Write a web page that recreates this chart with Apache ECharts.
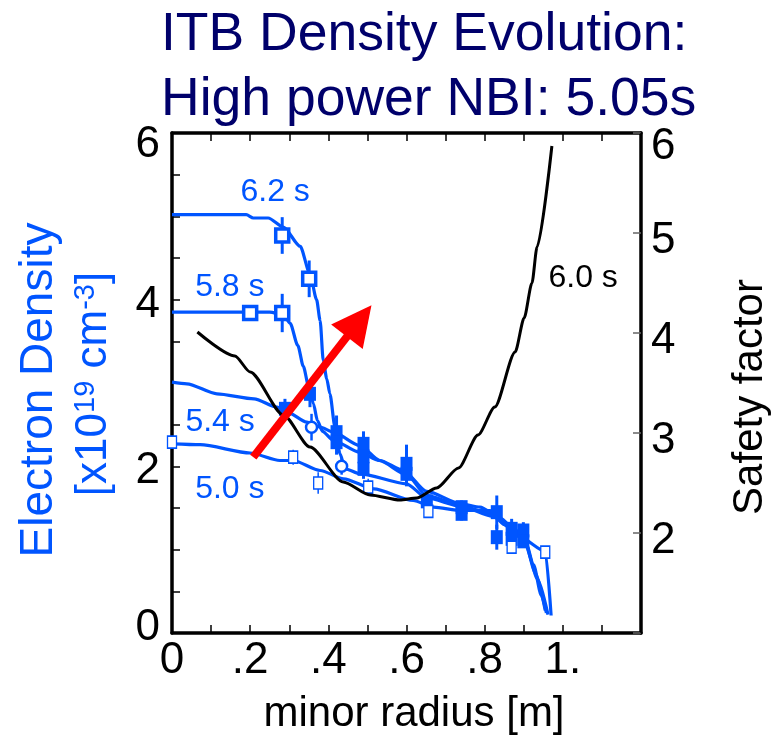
<!DOCTYPE html>
<html>
<head>
<meta charset="utf-8">
<script src="https://cdn.jsdelivr.net/npm/echarts@6/dist/echarts.min.js"></script>
<style>
html, body { margin: 0; padding: 0; background: #fff; }
#chart { width: 775px; height: 743px; }
</style>
</head>
<body>
<div id="chart"></div>
<script>
// Electron density profiles [minor radius (m), density (x10^19 cm^-3)]
const profile62 = [[0,5.02],[0.19,5.02],[0.208,4.98],[0.246,4.98],[0.285,4.87],[0.328,4.64],[0.353,4.31],[0.37,4.0],[0.379,3.75],[0.387,3.27],[0.396,3.05],[0.404,2.87],[0.417,2.47],[0.43,2.15],[0.443,1.97],[0.481,1.91],[0.6,1.79],[0.652,1.62],[0.74,1.52],[0.82,1.4],[0.87,1.25],[0.9,1.12],[0.925,0.82],[0.945,0.45],[0.958,0.24]];
const profile58 = [[0,3.85],[0.2,3.85],[0.25,3.85],[0.285,3.82],[0.302,3.72],[0.322,3.45],[0.336,3.2],[0.35,2.95],[0.362,2.75],[0.372,2.55],[0.385,2.42],[0.413,2.31],[0.48,2.17],[0.53,2.07],[0.6,1.9],[0.652,1.65],[0.74,1.53],[0.82,1.42],[0.87,1.27],[0.9,1.15],[0.93,0.72],[0.955,0.27]];
const profile54 = [[0,3.01],[0.038,2.99],[0.115,2.87],[0.21,2.81],[0.269,2.71],[0.295,2.65],[0.345,2.53],[0.379,2.47],[0.413,2.41],[0.48,2.25],[0.532,2.07],[0.592,1.95],[0.652,1.7],[0.74,1.55],[0.788,1.51],[0.84,1.38],[0.88,1.22],[0.905,1.08],[0.935,0.65],[0.962,0.22]];
const profile50 = [[0,2.27],[0.072,2.26],[0.2,2.16],[0.276,2.07],[0.31,2.07],[0.379,1.95],[0.439,1.85],[0.516,1.73],[0.617,1.59],[0.669,1.51],[0.74,1.47],[0.814,1.47],[0.85,1.3],[0.89,1.15],[0.955,0.98],[0.97,0.21]];

// Safety factor profile at 6.0 s [minor radius (m), q]
const qProfile60 = [[0.065,4.01],[0.161,3.77],[0.2,3.61],[0.285,3.18],[0.353,2.86],[0.438,2.51],[0.507,2.38],[0.583,2.33],[0.626,2.35],[0.677,2.45],[0.733,2.65],[0.783,2.98],[0.826,3.26],[0.878,3.81],[0.901,4.15],[0.921,4.5],[0.934,4.86],[0.972,5.87]];

// Measured points [r, ne, error]
const pointsBold = [[0.282,4.77,0.22],[0.351,4.25,0.22],[0.2,3.84,0.04],[0.282,3.84,0.23]];
const pointsFilled = [[0.289,2.69,0.12],[0.353,2.87,0.16],[0.421,2.41,0.2],[0.421,2.29,0.15],[0.49,2.27,0.15],[0.49,2.12,0.12],[0.49,1.97,0.12],[0.6,2.03,0.23],[0.6,1.91,0.15],[0.652,1.58,0.1],[0.741,1.51,0.08],[0.741,1.43,0.08],[0.831,1.45,0.2],[0.831,1.15,0.15],[0.869,1.25,0.12],[0.869,1.13,0.12],[0.899,1.23,0.1],[0.899,1.1,0.08]];
const pointsOpen = [[0,2.29,0.04],[0.31,2.11,0.09],[0.374,1.8,0.13],[0.502,1.75,0.1],[0.656,1.46,0.08],[0.869,1.03,0.08],[0.955,0.97,0.04]];
const pointsCircle = [[0.357,2.47,0.16],[0.434,2.0,0.1]];

// Curve tags [text, r, value]
const timeTags = [['6.2 s',0.264,5.29],['5.8 s',0.148,4.15],['5.4 s',0.123,2.53],['5.0 s',0.148,1.72]];
const qTags = [['6.0 s',1.052,4.55]];

// Evolution arrow (tail, head centre)
const arrowFrom = [0.208,2.11];
const arrowTo = [0.479,3.745];

// Axis tick labels
const xTickText = ['0','.2','.4','.6','.8','1.'];
const yLeftTicks = [0,2,4,6];
const yRightTicks = [2,3,4,5,6];

const BLUE = '#0055ff';
const NAVY = '#00006b';
const FONT = 'Liberation Sans, Arial, Helvetica, sans-serif';

const chart = echarts.init(document.getElementById('chart'), null, { renderer: 'canvas' });

function errorBars(points, width) {
  return {
    type: 'custom',
    xAxisIndex: 0, yAxisIndex: 0,
    silent: true, z: 3, clip: false,
    data: points.map(p => [p[0], p[1] - p[2], p[1] + p[2]]),
    encode: { x: 0, y: [1, 2] },
    renderItem(params, api) {
      const a = api.coord([api.value(0), api.value(1)]);
      const b = api.coord([api.value(0), api.value(2)]);
      return { type: 'line', shape: { x1: a[0], y1: a[1], x2: b[0], y2: b[1] },
               style: { stroke: BLUE, lineWidth: width } };
    }
  };
}

function profileLine(data) {
  return {
    type: 'line', xAxisIndex: 0, yAxisIndex: 0, data,
    showSymbol: false, symbol: 'none', smooth: 0.25, smoothMonotone: 'x',
    lineStyle: { color: BLUE, width: 3.2 }, z: 2, silent: true, clip: false
  };
}

function tagSeries(tags, yIndex, color) {
  return {
    type: 'custom', xAxisIndex: 0, yAxisIndex: yIndex, silent: true, z: 7, clip: false,
    data: tags.map(t => [t[1], t[2]]),
    encode: { x: 0, y: 1 },
    renderItem(params, api) {
      const p = api.coord([api.value(0), api.value(1)]);
      return {
        type: 'text', x: p[0], y: p[1],
        style: { text: tags[params.dataIndex][0], fill: color, fontSize: 32, fontFamily: FONT,
                 align: 'center', verticalAlign: 'middle', textAlign: 'center', textVerticalAlign: 'middle' }
      };
    }
  };
}

const axisLineStyle = { color: '#000', width: 3.5 };

const option = {
  animation: false,
  backgroundColor: '#fff',
  grid: { left: 172, right: 134, top: 133, bottom: 110, containLabel: false },
  xAxis: [
    {
      type: 'value', position: 'bottom', min: 0, max: 1.2, interval: 0.1,
      axisLine: { show: true, onZero: false, lineStyle: axisLineStyle },
      axisTick: { show: true, inside: true, length: 8, lineStyle: { color: '#000', width: 1.5 } },
      splitLine: { show: false },
      axisLabel: {
        show: true, margin: 6, color: '#000', fontSize: 44, fontFamily: FONT,
        formatter: v => {
          const k = Math.round(v * 10);
          return (k % 2 === 0 && k / 2 < xTickText.length) ? xTickText[k / 2] : '';
        }
      }
    },
    {
      type: 'value', position: 'top', min: 0, max: 1.2, interval: 0.1,
      axisLine: { show: true, onZero: false, lineStyle: axisLineStyle },
      axisTick: { show: true, inside: true, length: 8, lineStyle: { color: '#000', width: 1.5 } },
      splitLine: { show: false },
      axisLabel: { show: false }
    }
  ],
  yAxis: [
    {
      type: 'value', position: 'left', min: 0, max: 6, interval: 0.5,
      axisLine: { show: true, onZero: false, lineStyle: axisLineStyle },
      axisTick: { show: true, inside: true, length: 8, lineStyle: { color: '#000', width: 1.5 } },
      splitLine: { show: false },
      axisLabel: {
        show: true, margin: 12, color: '#000', fontSize: 44, fontFamily: FONT,
        formatter: v => {
          const r = Math.round(v * 2) / 2;
          if (!yLeftTicks.includes(r)) return '';
          if (r === 0) return '{lo|0}';
          if (r === 6) return '{hi|6}';
          return '{md|' + r + '}';
        },
        rich: {
          lo: { fontSize: 44, fontFamily: FONT, color: '#000', padding: [0, 0, 10, 0] },
          md: { fontSize: 44, fontFamily: FONT, color: '#000', padding: [10, 0, 0, 0] },
          hi: { fontSize: 44, fontFamily: FONT, color: '#000', padding: [24, 0, 0, 0] }
        }
      }
    },
    {
      type: 'value', position: 'right', min: 1, max: 6, interval: 1,
      axisLine: { show: true, onZero: false, lineStyle: axisLineStyle },
      axisTick: { show: true, inside: true, length: 8, lineStyle: { color: '#666', width: 1.5 } },
      splitLine: { show: false },
      axisLabel: {
        show: true, margin: 10, color: '#000', fontSize: 44, fontFamily: FONT,
        formatter: v => {
          const r = Math.round(v);
          if (!yRightTicks.includes(r)) return '';
          return r === 6 ? '{hi|6}' : '{md|' + r + '}';
        },
        rich: {
          md: { fontSize: 44, fontFamily: FONT, color: '#000', padding: [16, 0, 0, 0] },
          hi: { fontSize: 44, fontFamily: FONT, color: '#000', padding: [28, 0, 0, 0] }
        }
      }
    }
  ],
  series: [
    profileLine(profile62),
    profileLine(profile58),
    profileLine(profile54),
    profileLine(profile50),
    errorBars(pointsBold, 3),
    errorBars(pointsFilled, 3),
    errorBars(pointsOpen, 1.5),
    errorBars(pointsCircle, 2.5),
    {
      type: 'scatter', xAxisIndex: 0, yAxisIndex: 0, silent: true, z: 4, clip: false,
      data: pointsBold.map(p => [p[0], p[1]]),
      symbol: 'rect', symbolSize: 13,
      itemStyle: { color: '#fff', borderColor: BLUE, borderWidth: 3.5, opacity: 1 }
    },
    {
      type: 'scatter', xAxisIndex: 0, yAxisIndex: 0, silent: true, z: 4, clip: false,
      data: pointsFilled.map(p => [p[0], p[1]]),
      symbol: 'rect', symbolSize: [12, 14],
      itemStyle: { color: BLUE, opacity: 1 }
    },
    {
      type: 'scatter', xAxisIndex: 0, yAxisIndex: 0, silent: true, z: 4, clip: false,
      data: pointsOpen.map(p => [p[0], p[1]]),
      symbol: 'rect', symbolSize: [9, 12],
      itemStyle: { color: '#fff', borderColor: BLUE, borderWidth: 1.5, opacity: 1 }
    },
    {
      type: 'scatter', xAxisIndex: 0, yAxisIndex: 0, silent: true, z: 4, clip: false,
      data: pointsCircle.map(p => [p[0], p[1]]),
      symbol: 'circle', symbolSize: 11,
      itemStyle: { color: '#fff', borderColor: BLUE, borderWidth: 2.5, opacity: 1 }
    },
    {
      type: 'line', xAxisIndex: 0, yAxisIndex: 1, data: qProfile60,
      showSymbol: false, symbol: 'none', smooth: 0.25, smoothMonotone: 'x',
      lineStyle: { color: '#000', width: 3 }, z: 5, silent: true
    },
    {
      type: 'lines', coordinateSystem: 'cartesian2d', xAxisIndex: 0, yAxisIndex: 0,
      silent: true, z: 6,
      symbol: ['none', 'triangle'], symbolSize: [38, 40],
      lineStyle: { color: '#ff0000', width: 8, opacity: 1 },
      itemStyle: { color: '#ff0000' },
      data: [{ coords: [arrowFrom, arrowTo] }]
    },
    tagSeries(timeTags, 0, BLUE),
    tagSeries(qTags, 1, '#000')
  ],
  graphic: [
    {
      type: 'text', x: 161, y: 35, silent: true,
      style: { text: 'ITB Density Evolution:', fill: NAVY, fontSize: 53.5, fontFamily: FONT,
               textAlign: 'left', textVerticalAlign: 'middle', align: 'left', verticalAlign: 'middle' }
    },
    {
      type: 'text', x: 161, y: 100, silent: true,
      style: { text: 'High power NBI: 5.05s', fill: NAVY, fontSize: 53.5, fontFamily: FONT,
               textAlign: 'left', textVerticalAlign: 'middle', align: 'left', verticalAlign: 'middle' }
    },
    {
      type: 'text', x: 39, y: 390, rotation: Math.PI / 2, silent: true,
      style: { text: 'Electron Density', fill: BLUE, fontSize: 46, fontFamily: FONT,
               textAlign: 'center', textVerticalAlign: 'middle', align: 'center', verticalAlign: 'middle' }
    },
    {
      type: 'text', x: 94, y: 384, rotation: Math.PI / 2, silent: true,
      style: {
        text: '{b|[x10}{s|19}{b| cm}{s|-3}{b|]}',
        fill: BLUE, fontSize: 44, fontFamily: FONT,
        textAlign: 'center', textVerticalAlign: 'middle', align: 'center', verticalAlign: 'middle',
        rich: {
          b: { fill: BLUE, fontSize: 44, fontFamily: FONT, lineHeight: 46 },
          s: { fill: BLUE, fontSize: 29, fontFamily: FONT, lineHeight: 46, verticalAlign: 'top' }
        }
      }
    },
    {
      type: 'text', x: 750, y: 397, rotation: Math.PI / 2, silent: true,
      style: { text: 'Safety factor', fill: '#000', fontSize: 42, fontFamily: FONT,
               textAlign: 'center', textVerticalAlign: 'middle', align: 'center', verticalAlign: 'middle' }
    },
    {
      type: 'text', x: 414, y: 714, silent: true,
      style: { text: 'minor radius [m]', fill: '#000', fontSize: 42, fontFamily: FONT,
               textAlign: 'center', textVerticalAlign: 'middle', align: 'center', verticalAlign: 'middle' }
    }
  ]
};

chart.setOption(option);
</script>
</body>
</html>
